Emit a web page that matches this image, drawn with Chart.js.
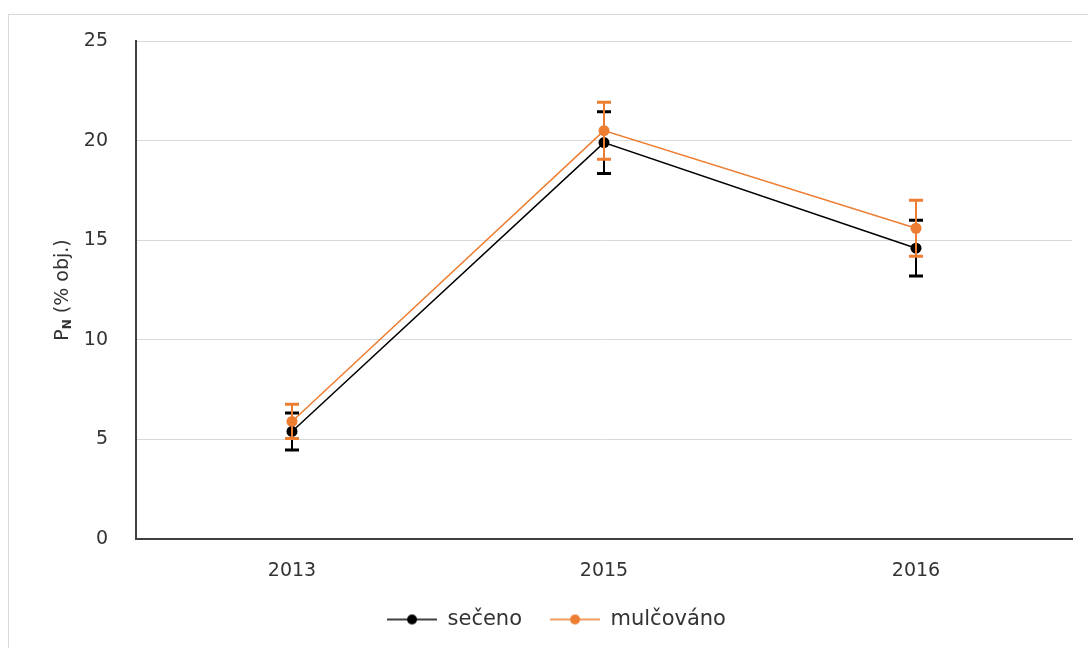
<!DOCTYPE html>
<html>
<head>
<meta charset="utf-8">
<script src="https://cdn.jsdelivr.net/npm/chart.js@4"></script>
<style>
  body { margin: 0; overflow: hidden; background: #fff; }
  #frame {
    position: absolute;
    left: 8px;
    top: 14px;
    width: 1090px;
    height: 640px;
    border: 1px solid #d9d9d9;
  }
  #wrap { position: absolute; left: 0; top: 0; width: 1080px; height: 634px; }
</style>
</head>
<body>
<div id="frame">
  <div id="wrap"><canvas id="chart"></canvas></div>
</div>
<script>
const years = ["2013", "2015", "2016"];
const seceno = [5.4, 19.9, 14.6];
const secenoErr = [0.93, 1.55, 1.4];
const mulcovano = [5.9, 20.5, 15.6];
const mulcovanoErr = [0.86, 1.43, 1.4];
const yTicks = [0, 5, 10, 15, 20, 25];

const textColor = "#333333";
const axisColor = "#404040";
const fontFamily = "'DejaVu Sans', sans-serif";

// line + dot sample for the legend
const makeLegendIcon = (color) => {
  const c = document.createElement("canvas");
  c.width = 50;
  c.height = 12;
  const g = c.getContext("2d");
  g.strokeStyle = color;
  g.lineWidth = 1.5;
  g.beginPath();
  g.moveTo(0, 6);
  g.lineTo(50, 6);
  g.stroke();
  g.fillStyle = color;
  g.beginPath();
  g.arc(25, 6, 5, 0, Math.PI * 2);
  g.fill();
  return c;
};

// error bars, drawn after the series: black first, then orange
const errorBars = {
  id: "errorBars",
  afterDatasetsDraw(chart) {
    const ctx = chart.ctx;
    const y = chart.scales.y;
    chart.data.datasets.forEach((ds, i) => {
      const meta = chart.getDatasetMeta(i);
      ctx.save();
      ctx.strokeStyle = ds.borderColor;
      meta.data.forEach((pt, j) => {
        const top = y.getPixelForValue(ds.data[j] + ds.errors[j]);
        const bottom = y.getPixelForValue(ds.data[j] - ds.errors[j]);
        ctx.lineWidth = 2;
        ctx.beginPath();
        ctx.moveTo(pt.x, top);
        ctx.lineTo(pt.x, bottom);
        ctx.stroke();
        ctx.lineWidth = 3;
        ctx.beginPath();
        ctx.moveTo(pt.x - 7, top);
        ctx.lineTo(pt.x + 7, top);
        ctx.moveTo(pt.x - 7, bottom);
        ctx.lineTo(pt.x + 7, bottom);
        ctx.stroke();
      });
      ctx.restore();
    });
  },
};

// y title with subscript N
const yTitle = {
  id: "yTitle",
  afterDraw(chart) {
    const ctx = chart.ctx;
    const area = chart.chartArea;
    const cy = (area.top + area.bottom) / 2;
    const big = "19px " + fontFamily;
    const small = "bold 12px " + fontFamily;
    ctx.save();
    ctx.fillStyle = textColor;
    ctx.textBaseline = "middle";
    ctx.translate(54, cy);
    ctx.rotate(-Math.PI / 2);
    ctx.font = big;
    const w1 = ctx.measureText("P").width;
    const w3 = ctx.measureText(" (% obj.)").width;
    ctx.font = small;
    const w2 = ctx.measureText("N").width;
    let x = -(w1 + w2 + w3) / 2;
    ctx.font = big;
    ctx.fillText("P", x, 0);
    x += w1;
    ctx.font = small;
    ctx.fillText("N", x, 5);
    x += w2;
    ctx.font = big;
    ctx.fillText(" (% obj.)", x, 0);
    ctx.restore();
  },
};

// nudge the legend a bit to the right
const legendShift = {
  id: "legendShift",
  afterLayout(chart) {
    chart.legend.left += 16;
    chart.legend.right += 16;
  },
};

const ctx = document.getElementById("chart").getContext("2d");

const chart = new Chart(ctx, {
  type: "line",
  data: {
    labels: years,
    datasets: [
      {
        label: "sečeno",
        data: seceno,
        errors: secenoErr,
        borderColor: "#000000",
        backgroundColor: "#000000",
        borderWidth: 1.5,
        pointRadius: 5.5,
        pointHoverRadius: 5.5,
        pointBorderWidth: 0,
        tension: 0,
        legendIcon: makeLegendIcon("#000000"),
      },
      {
        label: "mulčováno",
        data: mulcovano,
        errors: mulcovanoErr,
        borderColor: "#ED7D31",
        backgroundColor: "#ED7D31",
        borderWidth: 1.5,
        pointRadius: 5.5,
        pointHoverRadius: 5.5,
        pointBorderWidth: 0,
        tension: 0,
        legendIcon: makeLegendIcon("#ED7D31"),
      },
    ],
  },
  options: {
    responsive: true,
    maintainAspectRatio: false,
    animation: false,
    layout: {
      padding: { top: 26, right: 17, left: 0, bottom: 9 },
    },
    scales: {
      x: {
        offset: true,
        grid: { display: false, drawTicks: false },
        border: { display: true, color: axisColor, width: 2 },
        ticks: {
          color: textColor,
          padding: 21,
          font: { family: fontFamily, size: 19 },
        },
        afterFit: (scale) => {
          scale.height = 42;
        },
      },
      y: {
        min: 0,
        max: 25,
        afterBuildTicks: (scale) => {
          scale.ticks = yTicks.map((v) => ({ value: v }));
        },
        grid: {
          color: "#d9d9d9",
          lineWidth: 1,
          drawTicks: true,
          tickLength: 28,
          tickColor: "rgba(0,0,0,0)",
        },
        border: { display: true, color: axisColor, width: 2 },
        ticks: {
          color: textColor,
          padding: 0,
          font: { family: fontFamily, size: 19 },
        },
        afterFit: (scale) => {
          scale.width = 127;
        },
      },
    },
    plugins: {
      tooltip: { enabled: false },
      legend: {
        display: true,
        position: "bottom",
        onClick: null,
        labels: {
          usePointStyle: true,
          pointStyleWidth: 50,
          padding: 28,
          color: textColor,
          font: { family: fontFamily, size: 21 },
          generateLabels: (chart) => {
            const items = Chart.defaults.plugins.legend.labels.generateLabels(chart);
            items.forEach((it) => {
              it.pointStyle = chart.data.datasets[it.datasetIndex].legendIcon;
            });
            return items;
          },
        },
      },
    },
  },
  plugins: [errorBars, yTitle, legendShift],
});
</script>
</body>
</html>
